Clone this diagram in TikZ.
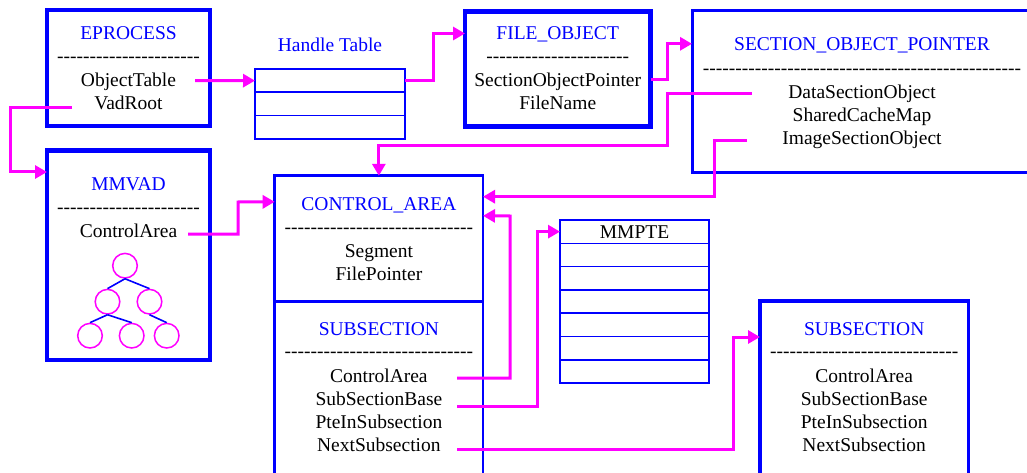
\documentclass[tikz,border=0pt]{standalone}
\usepackage{fontspec}
\setmainfont{Liberation Serif}
\usetikzlibrary{arrows.meta}
\definecolor{mag}{RGB}{255,0,255}
\definecolor{blu}{RGB}{0,0,255}
\newcommand\hyphens[1]{\foreach\hh in {1,...,#1}{\mbox{-}}}
\tikzset{
  box/.style={draw=blu, inner sep=0pt, outer sep=0pt, anchor=north west},
  tablerow/.style={box, line width=1.6pt, minimum height=23.3pt},
  txt/.style={inner sep=0pt, anchor=base, font=\fontsize{19.5}{23}\selectfont, text=black},
  ttl/.style={txt, text=blu},
  link/.style={draw=mag, line width=3pt, -{Triangle[length=12pt,width=13pt]}},
  treenode/.style={circle, draw=mag, line width=1.5pt, minimum size=24.6pt, inner sep=0pt},
  treeedge/.style={draw=blu, line width=1.6pt},
}
\begin{document}
\begin{tikzpicture}[x=1pt,y=-1pt]
\useasboundingbox (0,0) rectangle (1027,473);
% ---------------- boxes
\node[box, line width=4.3pt, minimum width=163pt, minimum height=116pt] (eproc) at (47,10) {};
\node[box, line width=4.3pt, minimum width=163pt, minimum height=209.2pt] (vad) at (47,150.5) {};
\node[box, line width=4.5pt, minimum width=185.5pt, minimum height=114.8pt] (fo) at (465,11.5) {};
\node[box, line width=3pt, minimum width=345pt, minimum height=162.2pt] (sop) at (692,10.8) {};
\node[box, line width=2.8pt, minimum width=208.3pt, minimum height=125.5pt] (ca) at (274.7,175.8) {};
\node[box, line width=2.8pt, minimum width=208.3pt, minimum height=190pt] (ss1) at (274.7,301.3) {};
\node[box, line width=3.2pt, minimum width=208.3pt, minimum height=190pt] (ss2) at (760,301) {};
% handle table
\node[tablerow, minimum width=150pt] (ht1) at (255,69) {};
\node[tablerow, minimum width=150pt] (ht2) at (255,92.3) {};
\node[tablerow, minimum width=150pt] (ht3) at (255,115.6) {};
% MMPTE table
\node[tablerow, minimum width=149pt, text height=13pt, text depth=0pt, font=\fontsize{19.5}{23}\selectfont] (mp0) at (560,220) {MMPTE};
\node[tablerow, minimum width=149pt] (mp1) at (560,243.3) {};
\node[tablerow, minimum width=149pt] (mp2) at (560,266.6) {};
\node[tablerow, minimum width=149pt] (mp3) at (560,289.9) {};
\node[tablerow, minimum width=149pt] (mp4) at (560,313.2) {};
\node[tablerow, minimum width=149pt] (mp5) at (560,336.5) {};
\node[tablerow, minimum width=149pt] (mp6) at (560,359.8) {};
% ---------------- texts
\node[ttl] (eprocT) at (128.5,40) {EPROCESS};
\node[txt] (eprocD) at (128.5,62.5) {\hyphens{22}};
\node[txt] (objtab) at (128.5,87) {ObjectTable};
\node[txt] (vadroot) at (128.5,110) {VadRoot};
\node[ttl] (htT) at (330,52) {Handle Table};
\node[ttl] (foT) at (557.7,40) {FILE\_OBJECT};
\node[txt] (foD) at (557.7,62.5) {\hyphens{22}};
\node[txt] (sopf) at (557.7,87) {SectionObjectPointer};
\node[txt] (fname) at (557.7,110) {FileName};
\node[ttl] (sopT) at (862,51) {SECTION\_OBJECT\_POINTER};
\node[txt] (sopD) at (862,74.5) {\hyphens{49}};
\node[txt] (dso) at (862,98.5) {DataSectionObject};
\node[txt] (scm) at (862,121.5) {SharedCacheMap};
\node[txt] (iso) at (862,144.5) {ImageSectionObject};
\node[ttl] (vadT) at (128.5,190) {MMVAD};
\node[txt] (vadD) at (128.5,213.5) {\hyphens{22}};
\node[txt] (vadca) at (128.5,237) {ControlArea};
\node[ttl] (caT) at (378.9,210) {CONTROL\_AREA};
\node[txt] (caD) at (378.9,233.5) {\hyphens{29}};
\node[txt] (seg) at (378.9,257) {Segment};
\node[txt] (fp) at (378.9,280) {FilePointer};
\node[ttl] (ssaT) at (378.9,335) {SUBSECTION};
\node[txt] (ssaD) at (378.9,357.5) {\hyphens{29}};
\node[txt] (ssaca) at (378.9,382) {ControlArea};
\node[txt] (ssasb) at (378.9,405) {SubSectionBase};
\node[txt] (ssapte) at (378.9,428) {PteInSubsection};
\node[txt] (ssans) at (378.9,451) {NextSubsection};
\node[ttl] (ssbT) at (864.2,335) {SUBSECTION};
\node[txt] (ssbD) at (864.2,357.5) {\hyphens{29}};
\node[txt] (ssbca) at (864.2,382) {ControlArea};
\node[txt] (ssbsb) at (864.2,405) {SubSectionBase};
\node[txt] (ssbpte) at (864.2,428) {PteInSubsection};
\node[txt] (ssbns) at (864.2,451) {NextSubsection};
% ---------------- VAD tree
\node[treenode] (t0) at (125,265.7) {};
\node[treenode] (t1) at (107.5,301.7) {};
\node[treenode] (t2) at (149.5,301.7) {};
\node[treenode] (t3) at (90,335.7) {};
\node[treenode] (t4) at (131.7,335.7) {};
\node[treenode] (t5) at (166.7,335.7) {};
\draw[treeedge] (t0.south) -- (t1.north);
\draw[treeedge] (t0.south) -- (t2.north);
\draw[treeedge] (t1.south) -- (t3.north);
\draw[treeedge] (t1.south) -- (t4.north);
\draw[treeedge] (t2.south) -- (t5.north);
% ---------------- connectors
\coordinate (s1) at (195,80.6);
\coordinate (s4) at (752,94);
\coordinate (s5) at (747,140.7);
\coordinate (s6) at (72,107.5);
\coordinate (s7) at (188,234);
\coordinate (s8) at (457,378);
\coordinate (s9) at (457,406);
\coordinate (s10) at (457,449.5);
\draw[link] (s1) -- (ht1.west);
\draw[link] (ht1.east) -- ++(28,0) |- ([yshift=-22pt]fo.north west);
\draw[link] ([yshift=-68.5pt]fo.north east) -- ++(17,0) |- ([yshift=-33pt]sop.north west);
\draw[link] (s4) -| (667,146) -| (ca.north);
\draw[link] (s5) -| (714,196.7) -- ([yshift=-20.9pt]ca.north east);
\draw[link] (s6) -| (10.5,172) -- ([yshift=-21.5pt]vad.north west);
\draw[link] (s7) -| (238,202) -- ([yshift=-26pt]ca.north west);
\draw[link] (s8) -| (510,216) -- ([yshift=-40pt]ca.north east);
\draw[link] (s9) -| (537,231.65) -- (mp0.west);
\draw[link] (s10) -| (733,337) -- ([yshift=-36pt]ss2.north west);
\end{tikzpicture}
\end{document}
